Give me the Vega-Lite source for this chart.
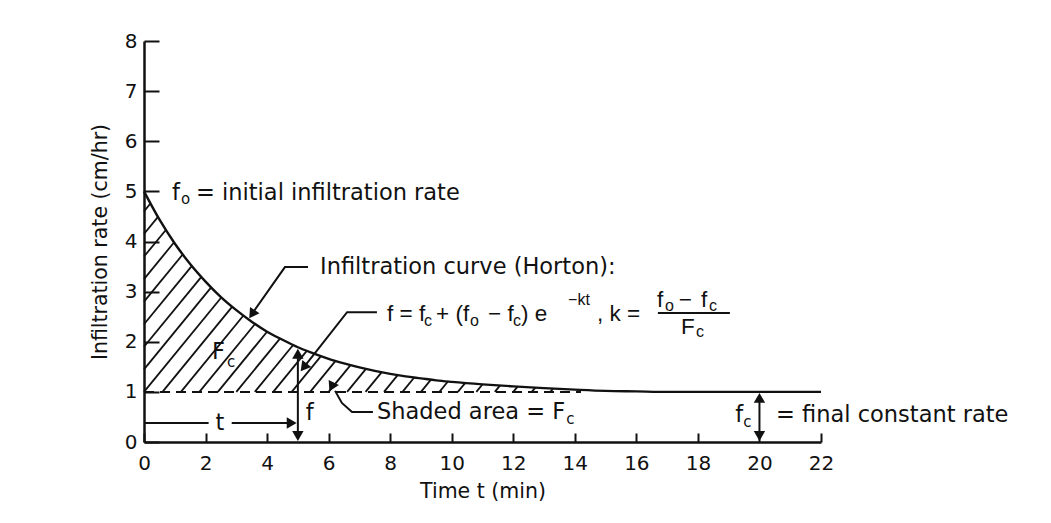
{
  "$schema": "https://vega.github.io/schema/vega-lite/v6.json",
  "width": 677,
  "height": 401,
  "autosize": {"type": "none"},
  "padding": {"left": 144, "top": 41, "right": 230, "bottom": 81},
  "background": "white",
  "config": {
    "view": {"stroke": null},
    "font": "DejaVu Sans",
    "text": {"font": "DejaVu Sans", "color": "#111111"}
  },
  "datasets": {
    "curve": [
      {"t": 0, "f": 5.0}, {"t": 0.5, "f": 4.44}, {"t": 1, "f": 3.96}, {"t": 1.5, "f": 3.55},
      {"t": 2, "f": 3.2}, {"t": 2.5, "f": 2.89}, {"t": 3, "f": 2.63}, {"t": 3.5, "f": 2.4},
      {"t": 4, "f": 2.2}, {"t": 4.5, "f": 2.04}, {"t": 5, "f": 1.89}, {"t": 5.5, "f": 1.77},
      {"t": 6, "f": 1.66}, {"t": 6.5, "f": 1.57}, {"t": 7, "f": 1.49}, {"t": 7.5, "f": 1.42},
      {"t": 8, "f": 1.36}, {"t": 8.5, "f": 1.31}, {"t": 9, "f": 1.27}, {"t": 9.5, "f": 1.23},
      {"t": 10, "f": 1.2}, {"t": 11, "f": 1.15}, {"t": 12, "f": 1.11}, {"t": 13, "f": 1.075},
      {"t": 14, "f": 1.045}, {"t": 15, "f": 1.02}, {"t": 16, "f": 1.01}, {"t": 17, "f": 1.0},
      {"t": 22, "f": 1.0}
    ],
    "hatch": [
      {"t": 0, "f": 4.6, "t2": 0.209, "f2": 4.757},
      {"t": 0, "f": 4.15, "t2": 0.454, "f2": 4.49},
      {"t": 0, "f": 3.7, "t2": 0.71, "f2": 4.23},
      {"t": 0, "f": 3.25, "t2": 0.98, "f2": 3.985},
      {"t": 0, "f": 2.8, "t2": 1.258, "f2": 3.74},
      {"t": 0, "f": 2.35, "t2": 1.55, "f2": 3.51},
      {"t": 0, "f": 1.9, "t2": 1.857, "f2": 3.29},
      {"t": 0, "f": 1.45, "t2": 2.176, "f2": 3.08},
      {"t": 0, "f": 1.0, "t2": 2.511, "f2": 2.883},
      {"t": 0.6, "f": 1.0, "t2": 2.861, "f2": 2.696},
      {"t": 1.2, "f": 1.0, "t2": 3.225, "f2": 2.519},
      {"t": 1.8, "f": 1.0, "t2": 3.607, "f2": 2.355},
      {"t": 2.4, "f": 1.0, "t2": 4.005, "f2": 2.204},
      {"t": 3.0, "f": 1.0, "t2": 4.418, "f2": 2.063},
      {"t": 3.6, "f": 1.0, "t2": 4.846, "f2": 1.935},
      {"t": 4.2, "f": 1.0, "t2": 5.29, "f2": 1.818},
      {"t": 4.8, "f": 1.0, "t2": 5.75, "f2": 1.713},
      {"t": 5.4, "f": 1.0, "t2": 6.225, "f2": 1.619},
      {"t": 6.0, "f": 1.0, "t2": 6.712, "f2": 1.534},
      {"t": 6.6, "f": 1.0, "t2": 7.213, "f2": 1.46},
      {"t": 7.2, "f": 1.0, "t2": 7.726, "f2": 1.395},
      {"t": 7.8, "f": 1.0, "t2": 8.25, "f2": 1.338},
      {"t": 8.4, "f": 1.0, "t2": 8.782, "f2": 1.287},
      {"t": 9.0, "f": 1.0, "t2": 9.325, "f2": 1.244},
      {"t": 9.6, "f": 1.0, "t2": 9.876, "f2": 1.207},
      {"t": 10.2, "f": 1.0, "t2": 10.433, "f2": 1.175},
      {"t": 10.8, "f": 1.0, "t2": 10.997, "f2": 1.148},
      {"t": 11.4, "f": 1.0, "t2": 11.566, "f2": 1.124},
      {"t": 12.0, "f": 1.0, "t2": 12.14, "f2": 1.105},
      {"t": 12.6, "f": 1.0, "t2": 12.718, "f2": 1.085},
      {"t": 13.2, "f": 1.0, "t2": 13.299, "f2": 1.065}
    ],
    "baseline": [{"t": 0, "f": 1.0, "t2": 14.2, "f2": 1.0}],
    "bar": [{"t": 16.7, "f": 2.574, "t2": 19.04, "f2": 2.574}],
    "leaders": [
      {"g": "vf", "o": 1, "t": 5, "f": 0.12}, {"g": "vf", "o": 2, "t": 5, "f": 1.76},
      {"g": "vc", "o": 1, "t": 20, "f": 0.12}, {"g": "vc", "o": 2, "t": 20, "f": 0.88},
      {"g": "t1", "o": 1, "t": 0, "f": 0.38}, {"g": "t1", "o": 2, "t": 2.1, "f": 0.38},
      {"g": "t2", "o": 1, "t": 2.85, "f": 0.38}, {"g": "t2", "o": 2, "t": 4.8, "f": 0.38},
      {"g": "hor", "o": 1, "t": 5.33, "f": 3.49}, {"g": "hor", "o": 2, "t": 4.58, "f": 3.49}, {"g": "hor", "o": 3, "t": 3.575, "f": 2.613},
      {"g": "frm", "o": 1, "t": 7.57, "f": 2.59}, {"g": "frm", "o": 2, "t": 6.6, "f": 2.59}, {"g": "frm", "o": 3, "t": 5.19, "f": 1.49},
      {"g": "sha", "o": 1, "t": 7.44, "f": 0.6}, {"g": "sha", "o": 2, "t": 6.76, "f": 0.6}, {"g": "sha", "o": 3, "t": 6.43, "f": 0.78}, {"g": "sha", "o": 4, "t": 6.21, "f": 1.02}
    ],
    "upArrows": [{"t": 5, "f": 1.76}, {"t": 20, "f": 0.88}],
    "downArrows": [{"t": 5, "f": 0.12}, {"t": 20, "f": 0.12}],
    "rightArrows": [{"t": 4.8, "f": 0.38}],
    "horArrow": [{"t": 3.51, "f": 2.55}],
    "frmArrow": [{"t": 5.19, "f": 1.49}],
    "shaArrow": [{"t": 6.09, "f": 1.157}],
    "mainText": [
      {"t": 0.91, "f": 4.97, "s": "f"},
      {"t": 1.69, "f": 4.97, "s": "= initial infiltration rate"},
      {"t": 5.72, "f": 3.49, "s": "Infiltration curve (Horton):"},
      {"t": 2.21, "f": 1.8, "s": "F"},
      {"t": 7.57, "f": 0.6, "s": "Shaded area = F"},
      {"t": 19.21, "f": 0.54, "s": "f"},
      {"t": 20.54, "f": 0.54, "s": "= final constant rate"},
      {"t": 2.32, "f": 0.38, "s": "t"},
      {"t": 5.26, "f": 0.58, "s": "f"}
    ],
    "subText": [
      {"t": 1.2, "f": 4.85, "s": "o"},
      {"t": 2.7, "f": 1.6, "s": "c"},
      {"t": 13.72, "f": 0.46, "s": "c"},
      {"t": 19.47, "f": 0.4, "s": "c"}
    ],
    "formulaText": [
      {"t": 7.9, "f": 2.554, "s": "f = f"},
      {"t": 9.49, "f": 2.554, "s": "+ (f"},
      {"t": 11.18, "f": 2.554, "s": "− f"},
      {"t": 12.25, "f": 2.554, "s": ") e"},
      {"t": 14.72, "f": 2.554, "s": ", k ="},
      {"t": 16.67, "f": 2.83, "s": "f"},
      {"t": 17.38, "f": 2.83, "s": "−"},
      {"t": 18.1, "f": 2.83, "s": "f"},
      {"t": 17.45, "f": 2.294, "s": "F"}
    ],
    "formulaSub": [
      {"t": 9.1, "f": 2.41, "s": "c"},
      {"t": 10.59, "f": 2.41, "s": "o"},
      {"t": 11.99, "f": 2.41, "s": "c"},
      {"t": 13.78, "f": 2.83, "s": "−kt"},
      {"t": 16.93, "f": 2.71, "s": "o"},
      {"t": 18.36, "f": 2.71, "s": "c"},
      {"t": 17.94, "f": 2.19, "s": "c"}
    ]
  },
  "encoding": {
    "x": {
      "field": "t", "type": "quantitative",
      "scale": {"domain": [0, 22], "nice": false, "zero": false},
      "axis": {
        "title": "Time t (min)",
        "values": [0, 2, 4, 6, 8, 10, 12, 14, 16, 18, 20, 22],
        "grid": false,
        "domainColor": "#111111", "domainWidth": 2.5,
        "tickColor": "#111111", "tickWidth": 2, "tickSize": -9,
        "labelFont": "DejaVu Sans", "labelFontSize": 20, "labelColor": "#111111",
        "labelPadding": 20, "labelFlush": false, "labelOverlap": false,
        "titleFont": "DejaVu Sans", "titleFontSize": 20.5, "titleFontWeight": "normal",
        "titleColor": "#111111", "titlePadding": 8
      }
    },
    "y": {
      "field": "f", "type": "quantitative",
      "scale": {"domain": [0, 8], "nice": false, "zero": false},
      "axis": {
        "title": "Infiltration rate (cm/hr)",
        "values": [0, 1, 2, 3, 4, 5, 6, 7, 8],
        "grid": false,
        "domainColor": "#111111", "domainWidth": 2.5,
        "tickColor": "#111111", "tickWidth": 2, "tickSize": -15,
        "labelFont": "DejaVu Sans", "labelFontSize": 20, "labelColor": "#111111",
        "labelPadding": 22, "labelFlush": false, "labelOverlap": false,
        "titleFont": "DejaVu Sans", "titleFontSize": 20.5, "titleFontWeight": "normal",
        "titleColor": "#111111", "titlePadding": 14
      }
    }
  },
  "layer": [
    {
      "data": {"name": "hatch"},
      "mark": {"type": "rule", "color": "#111111", "strokeWidth": 1.8},
      "encoding": {"x2": {"field": "t2"}, "y2": {"field": "f2"}}
    },
    {
      "data": {"name": "baseline"},
      "mark": {"type": "rule", "color": "#111111", "strokeWidth": 2, "strokeDash": [10, 6]},
      "encoding": {"x2": {"field": "t2"}, "y2": {"field": "f2"}}
    },
    {
      "data": {"name": "bar"},
      "mark": {"type": "rule", "color": "#111111", "strokeWidth": 2},
      "encoding": {"x2": {"field": "t2"}, "y2": {"field": "f2"}}
    },
    {
      "data": {"name": "curve"},
      "mark": {"type": "line", "color": "#111111", "strokeWidth": 2.4, "interpolate": "monotone"},
      "encoding": {}
    },
    {
      "data": {"name": "leaders"},
      "mark": {"type": "line", "color": "#111111", "strokeWidth": 2},
      "encoding": {
        "detail": {"field": "g", "type": "nominal"},
        "order": {"field": "o", "type": "quantitative"}
      }
    },
    {
      "data": {"name": "upArrows"},
      "mark": {"type": "point", "shape": "triangle-up", "filled": true, "color": "#111111", "opacity": 1, "size": 130}
    },
    {
      "data": {"name": "downArrows"},
      "mark": {"type": "point", "shape": "triangle-down", "filled": true, "color": "#111111", "opacity": 1, "size": 130}
    },
    {
      "data": {"name": "rightArrows"},
      "mark": {"type": "point", "shape": "triangle-right", "filled": true, "color": "#111111", "opacity": 1, "size": 130}
    },
    {
      "data": {"name": "horArrow"},
      "mark": {"type": "point", "shape": "triangle-up", "angle": 214, "filled": true, "color": "#111111", "opacity": 1, "size": 130}
    },
    {
      "data": {"name": "frmArrow"},
      "mark": {"type": "point", "shape": "triangle-up", "angle": 218, "filled": true, "color": "#111111", "opacity": 1, "size": 130}
    },
    {
      "data": {"name": "shaArrow"},
      "mark": {"type": "point", "shape": "triangle-up", "angle": 326, "filled": true, "color": "#111111", "opacity": 1, "size": 130}
    },
    {
      "data": {"name": "mainText"},
      "mark": {"type": "text", "align": "left", "baseline": "middle", "font": "DejaVu Sans", "fontSize": 22.5, "color": "#111111"},
      "encoding": {"text": {"field": "s", "type": "nominal"}}
    },
    {
      "data": {"name": "subText"},
      "mark": {"type": "text", "align": "left", "baseline": "middle", "font": "DejaVu Sans", "fontSize": 15, "color": "#111111"},
      "encoding": {"text": {"field": "s", "type": "nominal"}}
    },
    {
      "data": {"name": "formulaText"},
      "mark": {"type": "text", "align": "left", "baseline": "middle", "font": "Liberation Sans", "fontSize": 22.5, "color": "#111111"},
      "encoding": {"text": {"field": "s", "type": "nominal"}}
    },
    {
      "data": {"name": "formulaSub"},
      "mark": {"type": "text", "align": "left", "baseline": "middle", "font": "Liberation Sans", "fontSize": 16, "color": "#111111"},
      "encoding": {"text": {"field": "s", "type": "nominal"}}
    }
  ]
}
